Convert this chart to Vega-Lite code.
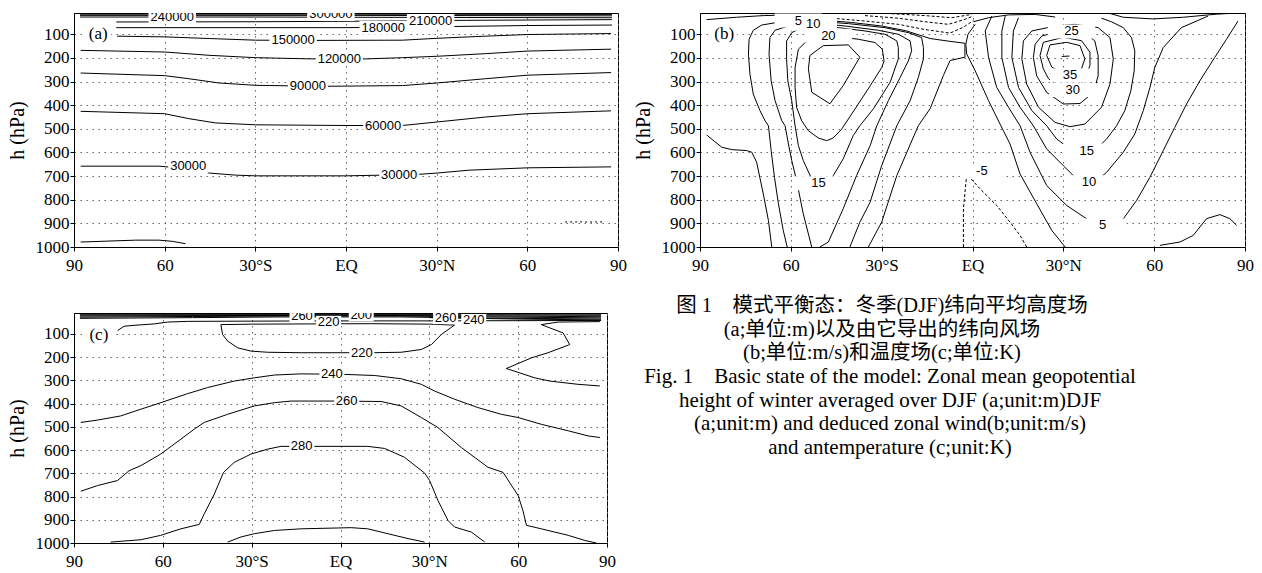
{
"$schema": "https://vega.github.io/schema/vega-lite/v6.json",
"padding": {"left": 6, "top": 12, "right": 10, "bottom": 10},
"background": "white",
"config": {
  "view": {"stroke": "black", "strokeWidth": 1},
  "axis": {"labelFont": "Liberation Serif", "labelFontSize": 17, "labelColor": "black", "titleFont": "Liberation Serif", "titleFontSize": 20, "titleFontWeight": "normal", "titleColor": "black", "domainColor": "black", "tickColor": "black", "tickSize": 4, "gridColor": "#666666", "gridDash": [1.5, 4.5], "gridWidth": 1, "labelFlush": false, "labelOverlap": false}
},
"datasets": {
  "a_lines": [
    {"id":"A1","level":330000,"lon":-88,"p":11},{"id":"A1","level":330000,"lon":88,"p":11},
    {"id":"A2","level":300000,"lon":-88,"p":15},{"id":"A2","level":300000,"lon":0,"p":15},{"id":"A2","level":300000,"lon":88,"p":16},
    {"id":"A3","level":270000,"lon":-88,"p":20},{"id":"A3","level":270000,"lon":0,"p":20},{"id":"A3","level":270000,"lon":40,"p":21},{"id":"A3","level":270000,"lon":88,"p":22},
    {"id":"A4","level":240000,"lon":-88,"p":27},{"id":"A4","level":240000,"lon":-30,"p":27},{"id":"A4","level":240000,"lon":0,"p":28},{"id":"A4","level":240000,"lon":40,"p":29},{"id":"A4","level":240000,"lon":88,"p":30},
    {"id":"A5","level":210000,"lon":-76,"p":48},{"id":"A5","level":210000,"lon":-30,"p":47},{"id":"A5","level":210000,"lon":0,"p":45},{"id":"A5","level":210000,"lon":40,"p":41},{"id":"A5","level":210000,"lon":88,"p":38},
    {"id":"A6","level":180000,"lon":-76,"p":72},{"id":"A6","level":180000,"lon":-30,"p":72},{"id":"A6","level":180000,"lon":0,"p":72},{"id":"A6","level":180000,"lon":30,"p":68},{"id":"A6","level":180000,"lon":60,"p":63},{"id":"A6","level":180000,"lon":88,"p":61},
    {"id":"A7","level":150000,"lon":-75.7,"p":108},{"id":"A7","level":150000,"lon":-60,"p":111},{"id":"A7","level":150000,"lon":-45.3,"p":118},{"id":"A7","level":150000,"lon":-29.9,"p":125},{"id":"A7","level":150000,"lon":-10.4,"p":126},{"id":"A7","level":150000,"lon":18.7,"p":125},{"id":"A7","level":150000,"lon":30.2,"p":117},{"id":"A7","level":150000,"lon":46.2,"p":108},{"id":"A7","level":150000,"lon":60.2,"p":101},{"id":"A7","level":150000,"lon":87.7,"p":97},
    {"id":"A8","level":120000,"lon":-87.8,"p":168},{"id":"A8","level":120000,"lon":-60,"p":175},{"id":"A8","level":120000,"lon":-45.3,"p":189},{"id":"A8","level":120000,"lon":-29.9,"p":199},{"id":"A8","level":120000,"lon":-12,"p":204},{"id":"A8","level":120000,"lon":4.9,"p":205},{"id":"A8","level":120000,"lon":18.7,"p":199},{"id":"A8","level":120000,"lon":30.2,"p":193},{"id":"A8","level":120000,"lon":46.2,"p":182},{"id":"A8","level":120000,"lon":60.2,"p":171},{"id":"A8","level":120000,"lon":87.7,"p":163},
    {"id":"A9","level":90000,"lon":-87.8,"p":264},{"id":"A9","level":90000,"lon":-60,"p":275},{"id":"A9","level":90000,"lon":-52,"p":288},{"id":"A9","level":90000,"lon":-42.1,"p":306},{"id":"A9","level":90000,"lon":-29.9,"p":316},{"id":"A9","level":90000,"lon":-18.9,"p":318},{"id":"A9","level":90000,"lon":-6,"p":320},{"id":"A9","level":90000,"lon":18.7,"p":317},{"id":"A9","level":90000,"lon":30.2,"p":306},{"id":"A9","level":90000,"lon":46.2,"p":288},{"id":"A9","level":90000,"lon":60.2,"p":273},{"id":"A9","level":90000,"lon":87.7,"p":262},
    {"id":"A10","level":60000,"lon":-87.8,"p":426},{"id":"A10","level":60000,"lon":-60,"p":436},{"id":"A10","level":60000,"lon":-52,"p":457},{"id":"A10","level":60000,"lon":-43.2,"p":475},{"id":"A10","level":60000,"lon":-29.9,"p":483},{"id":"A10","level":60000,"lon":0,"p":486},{"id":"A10","level":60000,"lon":18.7,"p":486},{"id":"A10","level":60000,"lon":30.2,"p":471},{"id":"A10","level":60000,"lon":46.2,"p":450},{"id":"A10","level":60000,"lon":60.2,"p":436},{"id":"A10","level":60000,"lon":87.7,"p":424},
    {"id":"A11","level":30000,"lon":-87.8,"p":658},{"id":"A11","level":30000,"lon":-61.9,"p":658},{"id":"A11","level":30000,"lon":-53,"p":668},{"id":"A11","level":30000,"lon":-45.3,"p":687},{"id":"A11","level":30000,"lon":-36.5,"p":696},{"id":"A11","level":30000,"lon":-29.9,"p":699},{"id":"A11","level":30000,"lon":0,"p":699},{"id":"A11","level":30000,"lon":23.6,"p":693},{"id":"A11","level":30000,"lon":30.2,"p":687},{"id":"A11","level":30000,"lon":40.7,"p":675},{"id":"A11","level":30000,"lon":60.2,"p":665},{"id":"A11","level":30000,"lon":87.7,"p":661},
    {"id":"A12","level":0,"lon":-87.8,"p":979},{"id":"A12","level":0,"lon":-69.6,"p":971},{"id":"A12","level":0,"lon":-61.9,"p":971},{"id":"A12","level":0,"lon":-57.5,"p":976},{"id":"A12","level":0,"lon":-53.1,"p":986},
    {"id":"A13","level":-30000,"lon":72.5,"p":894},{"id":"A13","level":-30000,"lon":85.7,"p":894}
  ],
  "a_labels": [
    {"lon":-57.5,"p":27,"text":"240000"},{"lon":-17.5,"p":125,"text":"150000"},{"lon":-2.2,"p":205,"text":"120000"},{"lon":-12.6,"p":318,"text":"90000"},{"lon":12.3,"p":486,"text":"60000"},{"lon":-52.2,"p":659,"text":"30000"},{"lon":17.6,"p":694,"text":"30000"},{"lon":12.3,"p":72,"text":"180000"},{"lon":-5,"p":14,"text":"300000"},{"lon":28,"p":44,"text":"210000"}
  ],
  "b_lines": [
    {"id":"b0w","level":0,"lon":-87.8,"p":526},{"id":"b0w","level":0,"lon":-82.8,"p":578},{"id":"b0w","level":0,"lon":-79.5,"p":588},{"id":"b0w","level":0,"lon":-74.6,"p":592},{"id":"b0w","level":0,"lon":-72.9,"p":599},{"id":"b0w","level":0,"lon":-71.3,"p":641},{"id":"b0w","level":0,"lon":-69.1,"p":775},{"id":"b0w","level":0,"lon":-67.4,"p":888},{"id":"b0w","level":0,"lon":-66.3,"p":1000},
    {"id":"bT1","level":0,"lon":-87.8,"p":38},{"id":"bT1","level":0,"lon":-77.9,"p":28},{"id":"bT1","level":0,"lon":-69.1,"p":21},{"id":"bT1","level":0,"lon":-59.7,"p":18},
    {"id":"b5S","level":5,"lon":-40.5,"p":1000},{"id":"b5S","level":5,"lon":-37.2,"p":895},{"id":"b5S","level":5,"lon":-33.8,"p":810},{"id":"b5S","level":5,"lon":-30.0,"p":656},{"id":"b5S","level":5,"lon":-25.0,"p":487},{"id":"b5S","level":5,"lon":-20.6,"p":381},{"id":"b5S","level":5,"lon":-17.9,"p":283},{"id":"b5S","level":5,"lon":-16.2,"p":204},{"id":"b5S","level":5,"lon":-16.2,"p":156},{"id":"b5S","level":5,"lon":-16.8,"p":114},{"id":"b5S","level":5,"lon":-21.2,"p":93},{"id":"b5S","level":5,"lon":-28.9,"p":72},{"id":"b5S","level":5,"lon":-41.0,"p":55},{"id":"b5S","level":5,"lon":-55.3,"p":41},{"id":"b5S","level":5,"lon":-59.2,"p":47},{"id":"b5S","level":5,"lon":-64.1,"p":49},{"id":"b5S","level":5,"lon":-69.6,"p":61},{"id":"b5S","level":5,"lon":-72.4,"p":83},{"id":"b5S","level":5,"lon":-73.8,"p":121},{"id":"b5S","level":5,"lon":-74.0,"p":184},{"id":"b5S","level":5,"lon":-73.5,"p":269},{"id":"b5S","level":5,"lon":-72.4,"p":353},{"id":"b5S","level":5,"lon":-70.2,"p":423},{"id":"b5S","level":5,"lon":-68.5,"p":466},{"id":"b5S","level":5,"lon":-67.4,"p":487},{"id":"b5S","level":5,"lon":-66.5,"p":592},{"id":"b5S","level":5,"lon":-65.4,"p":705},{"id":"b5S","level":5,"lon":-64.1,"p":817},{"id":"b5S","level":5,"lon":-62.5,"p":930},{"id":"b5S","level":5,"lon":-61.2,"p":1000},
    {"id":"b10S","level":10,"lon":-50.4,"p":1000},{"id":"b10S","level":10,"lon":-47.6,"p":979},{"id":"b10S","level":10,"lon":-42.7,"p":838},{"id":"b10S","level":10,"lon":-38.3,"p":698},{"id":"b10S","level":10,"lon":-33.8,"p":571},{"id":"b10S","level":10,"lon":-31.6,"p":487},{"id":"b10S","level":10,"lon":-27.8,"p":381},{"id":"b10S","level":10,"lon":-23.9,"p":283},{"id":"b10S","level":10,"lon":-21.2,"p":213},{"id":"b10S","level":10,"lon":-20.1,"p":170},{"id":"b10S","level":10,"lon":-20.6,"p":128},{"id":"b10S","level":10,"lon":-24.5,"p":100},{"id":"b10S","level":10,"lon":-31.1,"p":83},{"id":"b10S","level":10,"lon":-42.1,"p":65},{"id":"b10S","level":10,"lon":-49.8,"p":55},{"id":"b10S","level":10,"lon":-54.2,"p":58},{"id":"b10S","level":10,"lon":-60.8,"p":65},{"id":"b10S","level":10,"lon":-65.2,"p":83},{"id":"b10S","level":10,"lon":-66.9,"p":114},{"id":"b10S","level":10,"lon":-67.2,"p":184},{"id":"b10S","level":10,"lon":-66.5,"p":297},{"id":"b10S","level":10,"lon":-65.2,"p":381},{"id":"b10S","level":10,"lon":-63.0,"p":466},{"id":"b10S","level":10,"lon":-61.9,"p":487},{"id":"b10S","level":10,"lon":-60.8,"p":564},{"id":"b10S","level":10,"lon":-59.7,"p":634},{"id":"b10S","level":10,"lon":-58.1,"p":719},{"id":"b10S","level":10,"lon":-55.9,"p":859},{"id":"b10S","level":10,"lon":-53.1,"p":1000},
    {"id":"b15S","level":15,"lon":-46.0,"p":698},{"id":"b15S","level":15,"lon":-42.7,"p":627},{"id":"b15S","level":15,"lon":-39.4,"p":529},{"id":"b15S","level":15,"lon":-37.2,"p":487},{"id":"b15S","level":15,"lon":-32.7,"p":415},{"id":"b15S","level":15,"lon":-27.2,"p":303},{"id":"b15S","level":15,"lon":-24.5,"p":204},{"id":"b15S","level":15,"lon":-24.5,"p":156},{"id":"b15S","level":15,"lon":-25.0,"p":128},{"id":"b15S","level":15,"lon":-28.9,"p":100},{"id":"b15S","level":15,"lon":-35.5,"p":86},{"id":"b15S","level":15,"lon":-44.3,"p":72},{"id":"b15S","level":15,"lon":-48.7,"p":66},{"id":"b15S","level":15,"lon":-56.4,"p":72},{"id":"b15S","level":15,"lon":-59.7,"p":93},{"id":"b15S","level":15,"lon":-61.4,"p":128},{"id":"b15S","level":15,"lon":-61.4,"p":204},{"id":"b15S","level":15,"lon":-61.0,"p":297},{"id":"b15S","level":15,"lon":-59.7,"p":381},{"id":"b15S","level":15,"lon":-58.6,"p":487},{"id":"b15S","level":15,"lon":-57.5,"p":571},{"id":"b15S","level":15,"lon":-55.9,"p":634},{"id":"b15S","level":15,"lon":-52.6,"p":726},{"id":"b15S","level":15,"lon":-50.9,"p":735},{"id":"b15S","level":15,"lon":-48.0,"p":725},{"id":"b15S","level":15,"lon":-46.0,"p":698},
    {"id":"b20S","level":20,"lon":-47.6,"p":106},{"id":"b20S","level":20,"lon":-44.3,"p":111},{"id":"b20S","level":20,"lon":-37.7,"p":121},{"id":"b20S","level":20,"lon":-32.2,"p":135},{"id":"b20S","level":20,"lon":-29.8,"p":163},{"id":"b20S","level":20,"lon":-29.2,"p":213},{"id":"b20S","level":20,"lon":-30.0,"p":241},{"id":"b20S","level":20,"lon":-33.8,"p":318},{"id":"b20S","level":20,"lon":-38.8,"p":416},{"id":"b20S","level":20,"lon":-43.2,"p":501},{"id":"b20S","level":20,"lon":-46.0,"p":539},{"id":"b20S","level":20,"lon":-48.2,"p":550},{"id":"b20S","level":20,"lon":-50.9,"p":539},{"id":"b20S","level":20,"lon":-54.2,"p":508},{"id":"b20S","level":20,"lon":-56.4,"p":466},{"id":"b20S","level":20,"lon":-58.1,"p":409},{"id":"b20S","level":20,"lon":-58.6,"p":325},{"id":"b20S","level":20,"lon":-58.6,"p":241},{"id":"b20S","level":20,"lon":-57.5,"p":163},{"id":"b20S","level":20,"lon":-55.3,"p":135},{"id":"b20S","level":20,"lon":-50.9,"p":114},{"id":"b20S","level":20,"lon":-47.6,"p":106},
    {"id":"b25S","level":25,"lon":-53.7,"p":190},{"id":"b25S","level":25,"lon":-49.3,"p":148},{"id":"b25S","level":25,"lon":-41.0,"p":145},{"id":"b25S","level":25,"lon":-37.2,"p":197},{"id":"b25S","level":25,"lon":-42.7,"p":317},{"id":"b25S","level":25,"lon":-47.1,"p":394},{"id":"b25S","level":25,"lon":-53.1,"p":345},{"id":"b25S","level":25,"lon":-54.2,"p":246},{"id":"b25S","level":25,"lon":-53.7,"p":190},
    {"id":"b0S","level":0,"lon":-50,"p":40},{"id":"b0S","level":0,"lon":-40,"p":50},{"id":"b0S","level":0,"lon":-30,"p":65},{"id":"b0S","level":0,"lon":-22,"p":85},{"id":"b0S","level":0,"lon":-14,"p":118},{"id":"b0S","level":0,"lon":-7.4,"p":130},{"id":"b0S","level":0,"lon":-2.5,"p":138},{"id":"b0S","level":0,"lon":-2.5,"p":197},{"id":"b0S","level":0,"lon":-7.4,"p":211},{"id":"b0S","level":0,"lon":-9.6,"p":274},{"id":"b0S","level":0,"lon":-14.0,"p":415},{"id":"b0S","level":0,"lon":-17.9,"p":487},{"id":"b0S","level":0,"lon":-25.0,"p":698},{"id":"b0S","level":0,"lon":-30.0,"p":895},{"id":"b0S","level":0,"lon":-34.4,"p":1000},
    {"id":"bD1","level":-5,"lon":-70,"p":13},{"id":"bD1","level":-5,"lon":-56,"p":11},
    {"id":"bD2","level":-5,"lon":-46.5,"p":32},{"id":"bD2","level":-5,"lon":-35.5,"p":44},{"id":"bD2","level":-5,"lon":-24.5,"p":58},{"id":"bD2","level":-5,"lon":-15.7,"p":80},{"id":"bD2","level":-5,"lon":-7.4,"p":95},{"id":"bD2","level":-5,"lon":-3.0,"p":70},{"id":"bD2","level":-5,"lon":0.3,"p":42},
    {"id":"bD3","level":-10,"lon":-35.5,"p":21},{"id":"bD3","level":-10,"lon":-24.5,"p":32},{"id":"bD3","level":-10,"lon":-15.7,"p":47},{"id":"bD3","level":-10,"lon":-8.0,"p":58},{"id":"bD3","level":-10,"lon":-2.5,"p":37},{"id":"bD3","level":-10,"lon":0.3,"p":23},
    {"id":"bD4","level":-15,"lon":-26.7,"p":13},{"id":"bD4","level":-15,"lon":-15.7,"p":21},{"id":"bD4","level":-15,"lon":-6.9,"p":30},{"id":"bD4","level":-15,"lon":-0.3,"p":16},
    {"id":"bN40","level":40,"lon":29.5,"p":194},{"id":"bN40","level":40,"lon":32,"p":192},
    {"id":"bN35","level":35,"lon":25.6,"p":145},{"id":"bN35","level":35,"lon":31.1,"p":134},{"id":"bN35","level":35,"lon":35.5,"p":148},{"id":"bN35","level":35,"lon":37.1,"p":204},{"id":"bN35","level":35,"lon":36.0,"p":246},{"id":"bN35","level":35,"lon":34.4,"p":274},{"id":"bN35","level":35,"lon":30.0,"p":267},{"id":"bN35","level":35,"lon":26.2,"p":239},{"id":"bN35","level":35,"lon":24.5,"p":190},{"id":"bN35","level":35,"lon":25.6,"p":145},
    {"id":"bN30","level":30,"lon":23.4,"p":134},{"id":"bN30","level":30,"lon":30.0,"p":113},{"id":"bN30","level":30,"lon":36.0,"p":127},{"id":"bN30","level":30,"lon":38.8,"p":176},{"id":"bN30","level":30,"lon":38.8,"p":232},{"id":"bN30","level":30,"lon":37.1,"p":288},{"id":"bN30","level":30,"lon":34.4,"p":334},{"id":"bN30","level":30,"lon":28.9,"p":326},{"id":"bN30","level":30,"lon":25.1,"p":288},{"id":"bN30","level":30,"lon":23.4,"p":246},{"id":"bN30","level":30,"lon":22.3,"p":190},{"id":"bN30","level":30,"lon":23.4,"p":134},
    {"id":"bN25","level":25,"lon":28.4,"p":89},{"id":"bN25","level":25,"lon":22.9,"p":107},{"id":"bN25","level":25,"lon":20.7,"p":142},{"id":"bN25","level":25,"lon":20.1,"p":198},{"id":"bN25","level":25,"lon":21.2,"p":276},{"id":"bN25","level":25,"lon":24.5,"p":346},{"id":"bN25","level":25,"lon":30.0,"p":395},{"id":"bN25","level":25,"lon":35.5,"p":393},{"id":"bN25","level":25,"lon":39.9,"p":346},{"id":"bN25","level":25,"lon":41.5,"p":276},{"id":"bN25","level":25,"lon":41.5,"p":191},{"id":"bN25","level":25,"lon":40.4,"p":128},{"id":"bN25","level":25,"lon":37.1,"p":93},{"id":"bN25","level":25,"lon":33.8,"p":86},{"id":"bN25","level":25,"lon":28.4,"p":89},
    {"id":"bN20","level":20,"lon":27.3,"p":65},{"id":"bN20","level":20,"lon":19.6,"p":86},{"id":"bN20","level":20,"lon":16.8,"p":128},{"id":"bN20","level":20,"lon":16.3,"p":205},{"id":"bN20","level":20,"lon":17.9,"p":311},{"id":"bN20","level":20,"lon":21.8,"p":409},{"id":"bN20","level":20,"lon":27.3,"p":473},{"id":"bN20","level":20,"lon":32.2,"p":491},{"id":"bN20","level":20,"lon":37.1,"p":480},{"id":"bN20","level":20,"lon":42.6,"p":409},{"id":"bN20","level":20,"lon":45.4,"p":311},{"id":"bN20","level":20,"lon":46.5,"p":205},{"id":"bN20","level":20,"lon":45.4,"p":114},{"id":"bN20","level":20,"lon":41.5,"p":72},{"id":"bN20","level":20,"lon":33.8,"p":58},{"id":"bN20","level":20,"lon":27.3,"p":65},
    {"id":"bN15","level":15,"lon":15.2,"p":30},{"id":"bN15","level":15,"lon":13.5,"p":86},{"id":"bN15","level":15,"lon":13.0,"p":198},{"id":"bN15","level":15,"lon":15.2,"p":325},{"id":"bN15","level":15,"lon":19.6,"p":423},{"id":"bN15","level":15,"lon":24.5,"p":487},{"id":"bN15","level":15,"lon":27.8,"p":543},{"id":"bN15","level":15,"lon":32.2,"p":585},{"id":"bN15","level":15,"lon":35.5,"p":599},{"id":"bN15","level":15,"lon":40.4,"p":592},{"id":"bN15","level":15,"lon":44.3,"p":543},{"id":"bN15","level":15,"lon":47.6,"p":487},{"id":"bN15","level":15,"lon":50.3,"p":423},{"id":"bN15","level":15,"lon":52.3,"p":339},{"id":"bN15","level":15,"lon":53.4,"p":255},{"id":"bN15","level":15,"lon":53.6,"p":170},{"id":"bN15","level":15,"lon":52.5,"p":114},{"id":"bN15","level":15,"lon":49.8,"p":72},{"id":"bN15","level":15,"lon":45.9,"p":47},{"id":"bN15","level":15,"lon":42.6,"p":32},
    {"id":"bN10","level":10,"lon":10.8,"p":23},{"id":"bN10","level":10,"lon":9.7,"p":86},{"id":"bN10","level":10,"lon":9.7,"p":198},{"id":"bN10","level":10,"lon":11.9,"p":325},{"id":"bN10","level":10,"lon":15.7,"p":409},{"id":"bN10","level":10,"lon":20.1,"p":487},{"id":"bN10","level":10,"lon":24.5,"p":585},{"id":"bN10","level":10,"lon":30.0,"p":656},{"id":"bN10","level":10,"lon":34.4,"p":712},{"id":"bN10","level":10,"lon":37.7,"p":726},{"id":"bN10","level":10,"lon":40.4,"p":726},{"id":"bN10","level":10,"lon":44.3,"p":684},{"id":"bN10","level":10,"lon":49.8,"p":599},{"id":"bN10","level":10,"lon":53.6,"p":522},{"id":"bN10","level":10,"lon":56.4,"p":423},{"id":"bN10","level":10,"lon":58.6,"p":325},{"id":"bN10","level":10,"lon":60.2,"p":241},{"id":"bN10","level":10,"lon":63.0,"p":156},{"id":"bN10","level":10,"lon":69.0,"p":72},{"id":"bN10","level":10,"lon":77.8,"p":23},
    {"id":"bN5","level":5,"lon":6.4,"p":23},{"id":"bN5","level":5,"lon":4.2,"p":86},{"id":"bN5","level":5,"lon":5.3,"p":198},{"id":"bN5","level":5,"lon":8.0,"p":325},{"id":"bN5","level":5,"lon":11.9,"p":409},{"id":"bN5","level":5,"lon":15.7,"p":487},{"id":"bN5","level":5,"lon":19.0,"p":599},{"id":"bN5","level":5,"lon":24.5,"p":740},{"id":"bN5","level":5,"lon":31.1,"p":824},{"id":"bN5","level":5,"lon":37.7,"p":881},{"id":"bN5","level":5,"lon":41.0,"p":909},{"id":"bN5","level":5,"lon":45.4,"p":909},{"id":"bN5","level":5,"lon":49.8,"p":881},{"id":"bN5","level":5,"lon":54.2,"p":803},{"id":"bN5","level":5,"lon":58.6,"p":705},{"id":"bN5","level":5,"lon":63.0,"p":592},{"id":"bN5","level":5,"lon":66.8,"p":494},{"id":"bN5","level":5,"lon":70.7,"p":395},{"id":"bN5","level":5,"lon":75.1,"p":297},{"id":"bN5","level":5,"lon":80.0,"p":198},{"id":"bN5","level":5,"lon":83.9,"p":121},{"id":"bN5","level":5,"lon":87.7,"p":44},
    {"id":"bN0","level":0,"lon":0.9,"p":58},{"id":"bN0","level":0,"lon":-1.5,"p":100},{"id":"bN0","level":0,"lon":-2.2,"p":142},{"id":"bN0","level":0,"lon":-1.9,"p":184},{"id":"bN0","level":0,"lon":0.9,"p":255},{"id":"bN0","level":0,"lon":5.3,"p":381},{"id":"bN0","level":0,"lon":9.1,"p":480},{"id":"bN0","level":0,"lon":12.4,"p":564},{"id":"bN0","level":0,"lon":15.7,"p":691},{"id":"bN0","level":0,"lon":21.2,"p":817},{"id":"bN0","level":0,"lon":26.2,"p":930},{"id":"bN0","level":0,"lon":30.6,"p":1000},
    {"id":"bNT1","level":10,"lon":0.3,"p":47},{"id":"bNT1","level":10,"lon":5.3,"p":30},{"id":"bNT1","level":10,"lon":11.9,"p":18},{"id":"bNT1","level":10,"lon":20.7,"p":16},{"id":"bNT1","level":10,"lon":27.3,"p":27},
    {"id":"bNT2","level":5,"lon":45.4,"p":12},{"id":"bNT2","level":5,"lon":49.8,"p":28},{"id":"bNT2","level":5,"lon":59.7,"p":35},{"id":"bNT2","level":5,"lon":69.6,"p":28},{"id":"bNT2","level":5,"lon":80.6,"p":15},{"id":"bNT2","level":5,"lon":86,"p":11},
    {"id":"bNP0","level":0,"lon":61.9,"p":993},{"id":"bNP0","level":0,"lon":68.5,"p":979},{"id":"bNP0","level":0,"lon":72.9,"p":951},{"id":"bNP0","level":0,"lon":77.3,"p":880},{"id":"bNP0","level":0,"lon":81.7,"p":863},{"id":"bNP0","level":0,"lon":85.0,"p":880},{"id":"bNP0","level":0,"lon":87.2,"p":908},
    {"id":"bNm5","level":-5,"lon":-3.0,"p":1000},{"id":"bNm5","level":-5,"lon":-3.0,"p":838},{"id":"bNm5","level":-5,"lon":-1.9,"p":691},{"id":"bNm5","level":-5,"lon":2.5,"p":754},{"id":"bNm5","level":-5,"lon":8.0,"p":824},{"id":"bNm5","level":-5,"lon":12.4,"p":895},{"id":"bNm5","level":-5,"lon":15.7,"p":951},{"id":"bNm5","level":-5,"lon":17.9,"p":1000}
  ],
  "b_labels": [
    {"lon":-57.5,"p":42,"text":"5"},{"lon":-52.6,"p":56,"text":"10"},{"lon":-47.6,"p":106,"text":"20"},{"lon":-50.9,"p":730,"text":"15"},
    {"lon":32.7,"p":88,"text":"25"},{"lon":32.2,"p":274,"text":"35"},{"lon":33.1,"p":336,"text":"30"},{"lon":37.7,"p":592,"text":"15"},{"lon":38.5,"p":726,"text":"10"},{"lon":43.0,"p":909,"text":"5"},{"lon":3.1,"p":677,"text":"-5"}
  ],
  "c_lines": [
    {"id":"C1","level":200,"lon":-88,"p":12},{"id":"C1","level":200,"lon":88,"p":12},
    {"id":"C2","level":200,"lon":-88,"p":15},{"id":"C2","level":200,"lon":0,"p":15},{"id":"C2","level":200,"lon":88,"p":15},
    {"id":"C3","level":200,"lon":-88,"p":19},{"id":"C3","level":200,"lon":-30,"p":18},{"id":"C3","level":200,"lon":30,"p":18},{"id":"C3","level":200,"lon":88,"p":20},
    {"id":"C4","level":220,"lon":-88,"p":23},{"id":"C4","level":220,"lon":-40,"p":21},{"id":"C4","level":220,"lon":0,"p":20},{"id":"C4","level":220,"lon":40,"p":22},{"id":"C4","level":220,"lon":88,"p":26},
    {"id":"C5","level":240,"lon":-88,"p":28},{"id":"C5","level":240,"lon":-50,"p":25},{"id":"C5","level":240,"lon":-20,"p":23},{"id":"C5","level":240,"lon":20,"p":23},{"id":"C5","level":240,"lon":50,"p":27},{"id":"C5","level":240,"lon":88,"p":31},
    {"id":"C6","level":260,"lon":-88,"p":33},{"id":"C6","level":260,"lon":-50,"p":30},{"id":"C6","level":260,"lon":-20,"p":27},{"id":"C6","level":260,"lon":20,"p":27},{"id":"C6","level":260,"lon":50,"p":32},{"id":"C6","level":260,"lon":88,"p":36},
    {"id":"C7","level":240,"lon":30,"p":30},{"id":"C7","level":240,"lon":60,"p":36},{"id":"C7","level":240,"lon":88,"p":40},
    {"id":"C8","level":220,"lon":-75.3,"p":86},{"id":"C8","level":220,"lon":-73.1,"p":67},{"id":"C8","level":220,"lon":-69.7,"p":63},{"id":"C8","level":220,"lon":-62.9,"p":57},{"id":"C8","level":220,"lon":-58.4,"p":49},{"id":"C8","level":220,"lon":-51.6,"p":46},{"id":"C8","level":220,"lon":-30,"p":45},{"id":"C8","level":220,"lon":0,"p":44},{"id":"C8","level":220,"lon":30,"p":44},{"id":"C8","level":220,"lon":60,"p":43},{"id":"C8","level":220,"lon":88,"p":42},
    {"id":"C220","level":220,"lon":-40.4,"p":60},{"id":"C220","level":220,"lon":-39.8,"p":103},{"id":"C220","level":220,"lon":-38.1,"p":131},{"id":"C220","level":220,"lon":-34.7,"p":160},{"id":"C220","level":220,"lon":-30.2,"p":174},{"id":"C220","level":220,"lon":-24.6,"p":179},{"id":"C220","level":220,"lon":-13.3,"p":181},{"id":"C220","level":220,"lon":10.9,"p":181},{"id":"C220","level":220,"lon":20.5,"p":179},{"id":"C220","level":220,"lon":27.3,"p":167},{"id":"C220","level":220,"lon":30.7,"p":146},{"id":"C220","level":220,"lon":34.0,"p":103},{"id":"C220","level":220,"lon":38.5,"p":62},{"id":"C220","level":220,"lon":30,"p":58},{"id":"C220","level":220,"lon":10,"p":56},{"id":"C220","level":220,"lon":-10,"p":57},{"id":"C220","level":220,"lon":-30,"p":58},{"id":"C220","level":220,"lon":-40.4,"p":60},
    {"id":"R220","level":220,"lon":87.6,"p":47},{"id":"R220","level":220,"lon":73.5,"p":49},{"id":"R220","level":220,"lon":67.8,"p":60},{"id":"R220","level":220,"lon":75.2,"p":96},{"id":"R220","level":220,"lon":77.4,"p":146},{"id":"R220","level":220,"lon":70.1,"p":181},{"id":"R220","level":220,"lon":64.5,"p":203},{"id":"R220","level":220,"lon":56.0,"p":249},{"id":"R220","level":220,"lon":65.6,"p":289},{"id":"R220","level":220,"lon":70.7,"p":303},{"id":"R220","level":220,"lon":80.2,"p":317},{"id":"R220","level":220,"lon":87.6,"p":324},
    {"id":"C240","level":240,"lon":-87.7,"p":481},{"id":"C240","level":240,"lon":-82.1,"p":471},{"id":"C240","level":240,"lon":-74.2,"p":453},{"id":"C240","level":240,"lon":-67.4,"p":424},{"id":"C240","level":240,"lon":-60.7,"p":396},{"id":"C240","level":240,"lon":-51.6,"p":357},{"id":"C240","level":240,"lon":-44.9,"p":331},{"id":"C240","level":240,"lon":-35.9,"p":303},{"id":"C240","level":240,"lon":-29.1,"p":289},{"id":"C240","level":240,"lon":-22.3,"p":277},{"id":"C240","level":240,"lon":-13.3,"p":272},{"id":"C240","level":240,"lon":0.8,"p":274},{"id":"C240","level":240,"lon":11.5,"p":279},{"id":"C240","level":240,"lon":20.5,"p":293},{"id":"C240","level":240,"lon":27.3,"p":317},{"id":"C240","level":240,"lon":31.8,"p":346},{"id":"C240","level":240,"lon":38.5,"p":381},{"id":"C240","level":240,"lon":46.4,"p":417},{"id":"C240","level":240,"lon":54.3,"p":446},{"id":"C240","level":240,"lon":60.0,"p":460},{"id":"C240","level":240,"lon":67.8,"p":489},{"id":"C240","level":240,"lon":76.9,"p":517},{"id":"C240","level":240,"lon":83.6,"p":539},{"id":"C240","level":240,"lon":87.6,"p":546},
    {"id":"C260","level":260,"lon":-87.7,"p":777},{"id":"C260","level":260,"lon":-82.1,"p":753},{"id":"C260","level":260,"lon":-75.3,"p":731},{"id":"C260","level":260,"lon":-71.4,"p":689},{"id":"C260","level":260,"lon":-67.4,"p":667},{"id":"C260","level":260,"lon":-60.7,"p":617},{"id":"C260","level":260,"lon":-53.9,"p":553},{"id":"C260","level":260,"lon":-49.4,"p":510},{"id":"C260","level":260,"lon":-46.0,"p":481},{"id":"C260","level":260,"lon":-38.1,"p":446},{"id":"C260","level":260,"lon":-29.1,"p":410},{"id":"C260","level":260,"lon":-22.3,"p":396},{"id":"C260","level":260,"lon":-16.7,"p":389},{"id":"C260","level":260,"lon":0,"p":389},{"id":"C260","level":260,"lon":13.7,"p":391},{"id":"C260","level":260,"lon":20.5,"p":410},{"id":"C260","level":260,"lon":27.3,"p":460},{"id":"C260","level":260,"lon":32.9,"p":503},{"id":"C260","level":260,"lon":40.8,"p":589},{"id":"C260","level":260,"lon":49.8,"p":674},{"id":"C260","level":260,"lon":54.9,"p":696},{"id":"C260","level":260,"lon":60.0,"p":796},{"id":"C260","level":260,"lon":61.6,"p":860},{"id":"C260","level":260,"lon":62.8,"p":924},{"id":"C260","level":260,"lon":67.8,"p":939},{"id":"C260","level":260,"lon":76.9,"p":967},{"id":"C260","level":260,"lon":82.5,"p":989},{"id":"C260","level":260,"lon":86.4,"p":1000},
    {"id":"C280","level":280,"lon":-77.6,"p":996},{"id":"C280","level":280,"lon":-67.4,"p":986},{"id":"C280","level":280,"lon":-60.7,"p":967},{"id":"C280","level":280,"lon":-53.9,"p":939},{"id":"C280","level":280,"lon":-47.7,"p":920},{"id":"C280","level":280,"lon":-46.0,"p":874},{"id":"C280","level":280,"lon":-42.6,"p":789},{"id":"C280","level":280,"lon":-39.5,"p":696},{"id":"C280","level":280,"lon":-35.9,"p":653},{"id":"C280","level":280,"lon":-30.2,"p":617},{"id":"C280","level":280,"lon":-24.6,"p":596},{"id":"C280","level":280,"lon":-20.1,"p":584},{"id":"C280","level":280,"lon":-8.8,"p":584},{"id":"C280","level":280,"lon":9.2,"p":584},{"id":"C280","level":280,"lon":14.9,"p":593},{"id":"C280","level":280,"lon":21.6,"p":631},{"id":"C280","level":280,"lon":28.4,"p":699},{"id":"C280","level":280,"lon":30.1,"p":731},{"id":"C280","level":280,"lon":32.9,"p":817},{"id":"C280","level":280,"lon":36.3,"p":903},{"id":"C280","level":280,"lon":38.5,"p":931},{"id":"C280","level":280,"lon":44.2,"p":953},{"id":"C280","level":280,"lon":48.7,"p":996},
    {"id":"C300","level":300,"lon":-38.1,"p":996},{"id":"C300","level":300,"lon":-33.6,"p":974},{"id":"C300","level":300,"lon":-29.1,"p":960},{"id":"C300","level":300,"lon":-22.3,"p":946},{"id":"C300","level":300,"lon":-13.3,"p":939},{"id":"C300","level":300,"lon":3.6,"p":934},{"id":"C300","level":300,"lon":9.2,"p":939},{"id":"C300","level":300,"lon":16.0,"p":960},{"id":"C300","level":300,"lon":22.8,"p":981},{"id":"C300","level":300,"lon":28.4,"p":996}
  ],
  "c_labels": [
    {"lon":-13.1,"p":584,"text":"280"},{"lon":2.1,"p":389,"text":"260"},{"lon":-2.9,"p":274,"text":"240"},{"lon":7.2,"p":181,"text":"220"},
    {"lon":-13,"p":22,"text":"260"},{"lon":-4,"p":50,"text":"220"},{"lon":7,"p":18,"text":"200"},{"lon":35.5,"p":30,"text":"260"},{"lon":45,"p":42,"text":"240"}
  ],
  "caption": [
    {"line":1,"lang":"zh","text":"图 1　模式平衡态：冬季(DJF)纬向平均高度场"},
    {"line":2,"lang":"zh","text":"(a;单位:m)以及由它导出的纬向风场"},
    {"line":3,"lang":"zh","text":"(b;单位:m/s)和温度场(c;单位:K)"},
    {"line":4,"lang":"en","text":"Fig. 1　Basic state of the model: Zonal mean geopotential"},
    {"line":5,"lang":"en","text":"height of winter averaged over DJF (a;unit:m)DJF"},
    {"line":6,"lang":"en","text":"(a;unit:m) and deduced zonal wind(b;unit:m/s)"},
    {"line":7,"lang":"en","text":"and antemperature (c;unit:K)"}
  ]
},
"columns": 2,
"spacing": {"row": 66, "column": 82},
"bounds": "flush",
"concat": [
  {
    "width": 544, "height": 234,
    "encoding": {
      "x": {"field": "lon", "type": "quantitative", "scale": {"domain": [-90, 90], "nice": false, "zero": false}, "axis": {"values": [-90,-60,-30,0,30,60,90], "labelExpr": "datum.value == 0 ? 'EQ' : datum.value == -30 ? '30°S' : datum.value == 30 ? '30°N' : '' + abs(datum.value)", "title": null, "grid": true, "labelPadding": 6, "labelFont": "Liberation Serif", "labelFontSize": 17}},
      "y": {"field": "p", "type": "quantitative", "scale": {"domain": [10, 1000], "reverse": true, "nice": false, "zero": false}, "axis": {"values": [100,200,300,400,500,600,700,800,900,1000], "format": "d", "title": "h (hPa)", "grid": true, "labelPadding": 1, "titlePadding": 8, "labelFont": "Liberation Serif", "labelFontSize": 17, "titleFont": "Liberation Serif", "titleFontSize": 20, "titleFontWeight": "normal"}}
    },
    "layer": [
      {"data": {"name": "a_lines"}, "transform": [{"filter": "datum.level >= 0"}], "mark": {"type": "line", "color": "black", "strokeWidth": 1, "clip": true}, "encoding": {"detail": {"field": "id"}, "order": {"value": null}}},
      {"data": {"name": "a_lines"}, "transform": [{"filter": "datum.level < 0"}], "mark": {"type": "line", "color": "black", "strokeWidth": 1, "strokeDash": [2, 3], "clip": true}, "encoding": {"detail": {"field": "id"}, "order": {"value": null}}},
      {"data": {"name": "a_labels"}, "mark": {"type": "point", "filled": true, "color": "white", "opacity": 1, "size": 2500, "strokeWidth": 0, "clip": true}, "encoding": {"shape": {"field": "text", "type": "nominal", "legend": null, "scale": {"domain": ["240000","150000","120000","180000","300000","210000","90000","60000","30000"], "range": ["M-0.95,-0.28H0.95V0.28H-0.95Z","M-0.95,-0.28H0.95V0.28H-0.95Z","M-0.95,-0.28H0.95V0.28H-0.95Z","M-0.95,-0.28H0.95V0.28H-0.95Z","M-0.95,-0.28H0.95V0.28H-0.95Z","M-0.95,-0.28H0.95V0.28H-0.95Z","M-0.8,-0.28H0.8V0.28H-0.8Z","M-0.8,-0.28H0.8V0.28H-0.8Z","M-0.8,-0.28H0.8V0.28H-0.8Z"]}}}},
      {"data": {"name": "a_labels"}, "mark": {"type": "text", "font": "Liberation Sans", "fontSize": 13, "color": "black", "clip": true}, "encoding": {"text": {"field": "text"}}},
      {"data": {"values": [{"lon": -82, "p": 100, "text": "(a)"}]}, "mark": {"type": "point", "filled": true, "color": "white", "opacity": 1, "size": 2500, "strokeWidth": 0, "shape": "M-0.52,-0.4H0.52V0.4H-0.52Z"}},
      {"data": {"values": [{"lon": -82, "p": 100, "text": "(a)"}]}, "mark": {"type": "text", "font": "Liberation Serif", "fontSize": 17, "color": "black"}, "encoding": {"text": {"field": "text"}}}
    ]
  },
  {
    "width": 545, "height": 234,
    "encoding": {
      "x": {"field": "lon", "type": "quantitative", "scale": {"domain": [-90, 90], "nice": false, "zero": false}, "axis": {"values": [-90,-60,-30,0,30,60,90], "labelExpr": "datum.value == 0 ? 'EQ' : datum.value == -30 ? '30°S' : datum.value == 30 ? '30°N' : '' + abs(datum.value)", "title": null, "grid": true, "labelPadding": 6, "labelFont": "Liberation Serif", "labelFontSize": 17}},
      "y": {"field": "p", "type": "quantitative", "scale": {"domain": [10, 1000], "reverse": true, "nice": false, "zero": false}, "axis": {"values": [100,200,300,400,500,600,700,800,900,1000], "format": "d", "title": "h (hPa)", "grid": true, "labelPadding": 1, "titlePadding": 8, "labelFont": "Liberation Serif", "labelFontSize": 17, "titleFont": "Liberation Serif", "titleFontSize": 20, "titleFontWeight": "normal"}}
    },
    "layer": [
      {"data": {"name": "b_lines"}, "transform": [{"filter": "datum.level >= 0"}], "mark": {"type": "line", "color": "black", "strokeWidth": 1, "clip": true}, "encoding": {"detail": {"field": "id"}, "order": {"value": null}}},
      {"data": {"name": "b_lines"}, "transform": [{"filter": "datum.level < 0"}], "mark": {"type": "line", "color": "black", "strokeWidth": 1, "strokeDash": [3, 2], "clip": true}, "encoding": {"detail": {"field": "id"}, "order": {"value": null}}},
      {"data": {"name": "b_labels"}, "mark": {"type": "point", "filled": true, "color": "white", "opacity": 1, "size": 2500, "strokeWidth": 0, "clip": true}, "encoding": {"shape": {"field": "text", "type": "nominal", "legend": null, "scale": {"domain": ["5","10","15","20","25","30","35","-5"], "range": ["M-0.24,-0.28H0.24V0.28H-0.24Z","M-0.38,-0.28H0.38V0.28H-0.38Z","M-0.38,-0.28H0.38V0.28H-0.38Z","M-0.38,-0.28H0.38V0.28H-0.38Z","M-0.38,-0.28H0.38V0.28H-0.38Z","M-0.38,-0.28H0.38V0.28H-0.38Z","M-0.38,-0.28H0.38V0.28H-0.38Z","M-0.34,-0.28H0.34V0.28H-0.34Z"]}}}},
      {"data": {"name": "b_labels"}, "mark": {"type": "text", "font": "Liberation Sans", "fontSize": 13, "color": "black", "clip": true}, "encoding": {"text": {"field": "text"}}},
      {"data": {"values": [{"lon": -82, "p": 100, "text": "(b)"}]}, "mark": {"type": "point", "filled": true, "color": "white", "opacity": 1, "size": 2500, "strokeWidth": 0, "shape": "M-0.52,-0.4H0.52V0.4H-0.52Z"}},
      {"data": {"values": [{"lon": -82, "p": 100, "text": "(b)"}]}, "mark": {"type": "text", "font": "Liberation Serif", "fontSize": 17, "color": "black"}, "encoding": {"text": {"field": "text"}}}
    ]
  },
  {
    "width": 533, "height": 230,
    "encoding": {
      "x": {"field": "lon", "type": "quantitative", "scale": {"domain": [-90, 90], "nice": false, "zero": false}, "axis": {"values": [-90,-60,-30,0,30,60,90], "labelExpr": "datum.value == 0 ? 'EQ' : datum.value == -30 ? '30°S' : datum.value == 30 ? '30°N' : '' + abs(datum.value)", "title": null, "grid": true, "labelPadding": 6, "labelFont": "Liberation Serif", "labelFontSize": 17}},
      "y": {"field": "p", "type": "quantitative", "scale": {"domain": [10, 1000], "reverse": true, "nice": false, "zero": false}, "axis": {"values": [100,200,300,400,500,600,700,800,900,1000], "format": "d", "title": "h (hPa)", "grid": true, "labelPadding": 1, "titlePadding": 8, "labelFont": "Liberation Serif", "labelFontSize": 17, "titleFont": "Liberation Serif", "titleFontSize": 20, "titleFontWeight": "normal"}}
    },
    "layer": [
      {"data": {"name": "c_lines"}, "mark": {"type": "line", "color": "black", "strokeWidth": 1, "clip": true}, "encoding": {"detail": {"field": "id"}, "order": {"value": null}}},
      {"data": {"name": "c_labels"}, "mark": {"type": "point", "filled": true, "color": "white", "opacity": 1, "size": 2500, "strokeWidth": 0, "clip": true, "shape": "M-0.5,-0.26H0.5V0.26H-0.5Z"}},
      {"data": {"name": "c_labels"}, "mark": {"type": "text", "font": "Liberation Sans", "fontSize": 13, "color": "black", "clip": true}, "encoding": {"text": {"field": "text"}}},
      {"data": {"values": [{"lon": -81.6, "p": 103, "text": "(c)"}]}, "mark": {"type": "point", "filled": true, "color": "white", "opacity": 1, "size": 2500, "strokeWidth": 0, "shape": "M-0.52,-0.4H0.52V0.4H-0.52Z"}},
      {"data": {"values": [{"lon": -81.6, "p": 103, "text": "(c)"}]}, "mark": {"type": "text", "font": "Liberation Serif", "fontSize": 17, "color": "black"}, "encoding": {"text": {"field": "text"}}}
    ]
  },
  {
    "width": 380, "height": 230,
    "view": {"stroke": null},
    "data": {"name": "caption"},
    "encoding": {
      "y": {"field": "line", "type": "quantitative", "scale": {"domain": [1.3, 11.0], "reverse": true, "nice": false, "zero": false}, "axis": null},
      "text": {"field": "text"}
    },
    "layer": [
      {"transform": [{"filter": "datum.lang == 'zh'"}], "mark": {"type": "text", "font": "Liberation Serif, Noto Sans CJK SC", "fontSize": 20.5, "color": "black", "dx": -8}},
      {"transform": [{"filter": "datum.lang == 'en'"}], "mark": {"type": "text", "font": "Liberation Serif", "fontSize": 21, "color": "black"}}
    ]
  }
]
}
